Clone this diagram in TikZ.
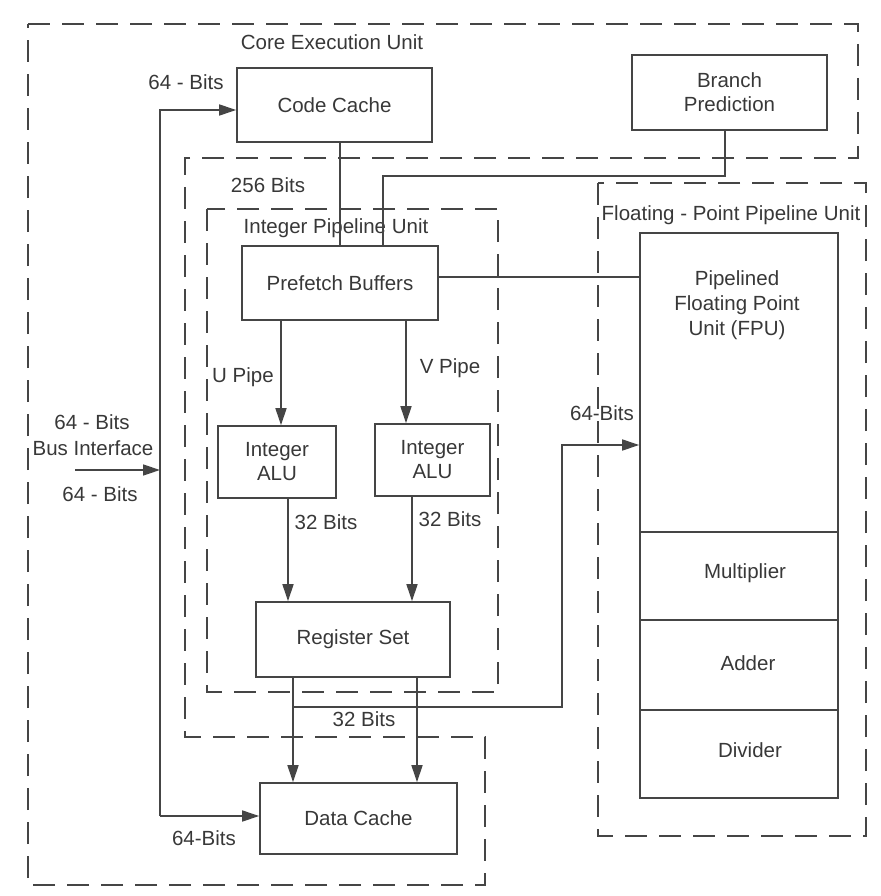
\documentclass[tikz,border=0pt]{standalone}
\usepackage{fontspec}
\setmainfont{Liberation Sans}
\usetikzlibrary{arrows.meta}
\definecolor{ink}{HTML}{454545}
\definecolor{txt}{HTML}{383838}
\tikzset{
  box/.style={draw=ink, line width=1.6pt, align=center, text=txt, inner sep=2pt},
  lbl/.style={text=txt, inner sep=0pt, align=center},
  unitline/.style={draw=ink, line width=2.2pt, dash pattern=on 22pt off 12pt},
  wire/.style={draw=ink, line width=1.5pt, line join=miter},
  arr/.style={wire, -{Triangle[length=17pt,width=11pt]}},
}
\begin{document}
\begin{tikzpicture}[x=1pt,y=-1pt,font=\fontsize{20.5}{24}\selectfont]
\useasboundingbox (0,0) rectangle (880,896);

% dashed unit outlines
\draw[unitline] (28,24) -- (858,24) -- (858,158) -- (185,158) -- (185,737)
  -- (485,737) -- (485,885) -- (28,885) -- cycle;
\draw[unitline] (207,209) rectangle (498,692);
\draw[unitline] (598,183) rectangle (866,836);

% boxes
\node[box, minimum width=195pt, minimum height=74pt] (cc) at (334.5,105) {Code Cache};
\node[box, minimum width=195pt, minimum height=75pt] (bp) at (729.5,92.5) {Branch\\Prediction};
\node[box, minimum width=196pt, minimum height=74pt] (pf) at (340,283) {Prefetch Buffers};
\node[box, minimum width=118pt, minimum height=72pt] (alu1) at (277,462) {Integer\\ALU};
\node[box, minimum width=115pt, minimum height=72pt] (alu2) at (432.5,460) {Integer\\ALU};
\node[box, minimum width=194pt, minimum height=75pt] (rs) at (353,639.5) {Register Set};
\node[box, minimum width=197pt, minimum height=71pt] (dc) at (358.5,818.5) {Data Cache};
\node[box, minimum width=198pt, minimum height=565pt] (fpu) at (739,515.5) {};

% FPU sections
\draw[wire] (fpu.west |- 0,532) -- (fpu.east |- 0,532);
\draw[wire] (fpu.west |- 0,620) -- (fpu.east |- 0,620);
\draw[wire] (fpu.west |- 0,710) -- (fpu.east |- 0,710);
\node[lbl] (fputxt) at (737,305) {Pipelined\\[1pt]Floating Point\\[1pt]Unit (FPU)};
\node[lbl] (mul) at (745,573) {Multiplier};
\node[lbl] (add) at (748,663) {Adder};
\node[lbl] (div) at (750,750) {Divider};

% unit labels
\node[lbl] (ceu) at (332,42) {Core Execution Unit};
\node[lbl] (b256) at (268,185) {256 Bits};
\node[lbl] (ipu) at (336,228) {Integer Pipeline Unit};
\node[lbl] (fppu) at (731,215) {Floating - Point Pipeline Unit};

% bus interface
\coordinate (busL) at (75,470);
\coordinate (vtop) at (160,110);
\coordinate (vbot) at (160,816);
\draw[arr] (busL) -- (vtop |- busL);
\draw[arr] (vbot) -- (vtop) -- (vtop -| cc.west);
\draw[arr] (vbot) -- (vbot -| dc.west);
\node[lbl] (l64a) at (92,422) {64 - Bits};
\node[lbl] (lbus) at (93,448) {Bus Interface};
\node[lbl] (l64b) at (100,494) {64 - Bits};
\node[lbl] (l64c) at (186,82) {64 - Bits};
\node[lbl] (l64d) at (204,838) {64-Bits};

% code cache and branch prediction to prefetch
\draw[wire] (cc.south -| pf.north) -- (pf.north);
\coordinate (bpturn) at (725,176);
\coordinate (bpleft) at (383,176);
\draw[wire] (bp.south -| bpturn) -- (bpturn) -- (bpleft) -- (pf.north -| bpleft);

% prefetch to FPU
\draw[wire] (pf.east |- 0,277) -- (fpu.west |- 0,277);

% pipes
\draw[arr] (pf.south -| 281,0) -- (alu1.north -| 281,0);
\draw[arr] (pf.south -| 406,0) -- (alu2.north -| 406,0);
\node[lbl] (lu) at (243,377) {U Pipe};
\node[lbl] (lv) at (450,368) {V Pipe};

% ALU to register set
\draw[arr] (alu1.south -| 288,0) -- (rs.north -| 288,0);
\draw[arr] (alu2.south -| 412,0) -- (rs.north -| 412,0);
\node[lbl] (l32a) at (326,522) {32 Bits};
\node[lbl] (l32b) at (450,519) {32 Bits};

% register set to data cache
\draw[arr] (rs.south -| 293,0) -- (dc.north -| 293,0);
\draw[arr] (rs.south -| 417,0) -- (dc.north -| 417,0);
\node[lbl] (l32c) at (364,719) {32 Bits};

% to FPU
\coordinate (hL) at (293,707);
\coordinate (hR) at (562,707);
\coordinate (hT) at (562,445);
\draw[arr] (hL) -- (hR) -- (hT) -- (fpu.west |- hT);
\node[lbl] (l64e) at (602,413) {64-Bits};
\end{tikzpicture}
\end{document}
